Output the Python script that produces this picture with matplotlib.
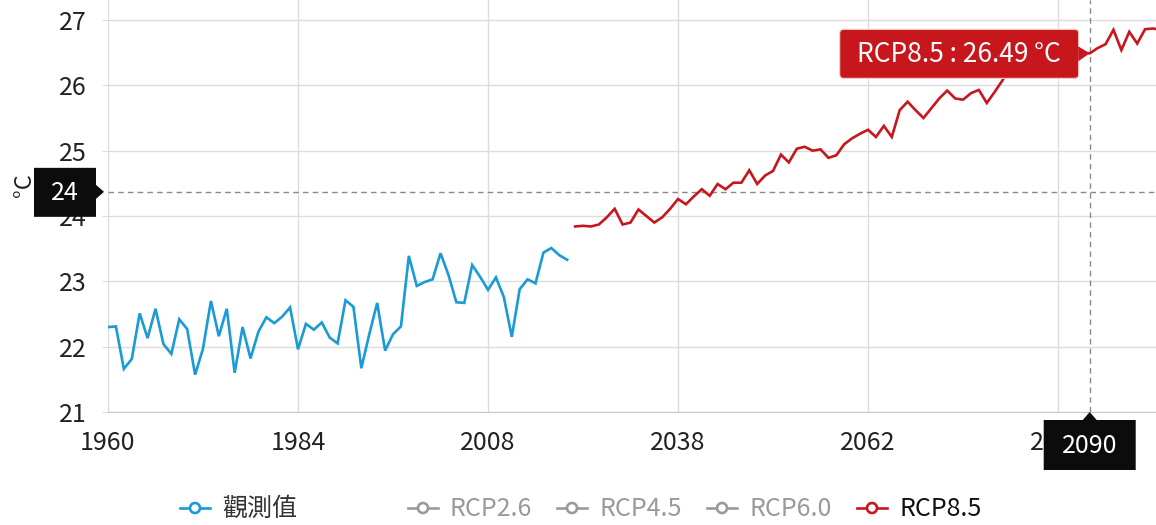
import matplotlib
matplotlib.use("Agg")
import matplotlib.pyplot as plt
from matplotlib.patches import FancyBboxPatch, Polygon, Circle
from matplotlib.lines import Line2D
from matplotlib.transforms import IdentityTransform

plt.rcParams['font.family'] = ['Noto Sans CJK TC', 'DejaVu Sans']

# ---------------- data ----------------
obs_years = list(range(1960, 2019))
obs_values = [22.30, 22.31, 21.66, 21.81, 22.51, 22.13, 22.58, 22.04, 21.89, 22.42,
              22.27, 21.57, 21.97, 22.70, 22.16, 22.58, 21.60, 22.30, 21.82, 22.23,
              22.45, 22.36, 22.46, 22.60, 21.96, 22.35, 22.26, 22.37, 22.14, 22.05,
              22.71, 22.61, 21.67, 22.19, 22.67, 21.94, 22.19, 22.31, 23.39, 22.93,
              22.99, 23.03, 23.43, 23.10, 22.68, 22.67, 23.25, 23.07, 22.87, 23.06,
              22.76, 22.15, 22.88, 23.03, 22.97, 23.44, 23.51, 23.40, 23.33]
proj_years = list(range(2025, 2100))
rcp85_values = [23.84, 23.85, 23.84, 23.87, 23.98, 24.11, 23.87, 23.90, 24.10, 24.00,
                23.90, 23.98, 24.11, 24.26, 24.18, 24.30, 24.41, 24.31, 24.49, 24.41,
                24.51, 24.51, 24.70, 24.49, 24.62, 24.69, 24.94, 24.82, 25.03, 25.06,
                25.00, 25.02, 24.89, 24.93, 25.10, 25.19, 25.26, 25.32, 25.21, 25.38,
                25.21, 25.62, 25.75, 25.62, 25.50, 25.65, 25.80, 25.92, 25.80, 25.78,
                25.88, 25.93, 25.73, 25.90, 26.08, 26.28, 26.22, 26.20, 26.27, 26.30,
                26.23, 26.45, 26.50, 26.63, 26.50, 26.49, 26.57, 26.63, 26.85, 26.54,
                26.82, 26.64, 26.86, 26.87, 26.85]
categories = [str(y) for y in obs_years + proj_years]
y_ticks = [21, 22, 23, 24, 25, 26, 27]
legend_labels = ['觀測值', 'RCP2.6', 'RCP4.5', 'RCP6.0', 'RCP8.5']
hover_year = '2090'
hover_y = 24.37
hover_series = 'RCP8.5'

# ---------------- style ----------------
W, H = 1156, 525
BLUE = '#1a9ad6'
RED = '#c8161d'
GRAY = '#9a9a9a'
GRID = '#dcdcdc'

fig = plt.figure(figsize=(W / 100, H / 100), dpi=100)
fig.patch.set_facecolor('white')
ax = fig.add_axes([108 / W, (H - 412) / H, (W - 108) / W, 412 / H])

obs_x = [categories.index(str(y)) for y in obs_years]
proj_x = [categories.index(str(y)) for y in proj_years]

ax.plot(obs_x, obs_values, color=BLUE, lw=1.9, solid_joinstyle='miter', zorder=3)
ax.plot(proj_x, rcp85_values, color=RED, lw=1.9, solid_joinstyle='miter', zorder=3)

ax.set_xlim(0, (W - 108) / 7.917)
ax.set_ylim(21, 21 + 412 / 65.33)

xt = list(range(0, len(categories), 24))
ax.set_xticks(xt)
ax.set_xticklabels([categories[i] for i in xt])
ax.set_yticks(y_ticks)
ax.grid(True, color=GRID, lw=1.0, zorder=0)
for s in ['top', 'right', 'left']:
    ax.spines[s].set_visible(False)
ax.spines['bottom'].set_color('#c8c8c8')
ax.tick_params(axis='y', length=4.5, color=GRID, pad=11, labelsize=18, labelcolor='#222222')
ax.tick_params(axis='x', length=0, pad=13, labelsize=18, labelcolor='#222222')
ax.set_ylabel('°C', fontsize=17, color='#222222')
ax.yaxis.set_label_coords(-72 / (W - 108), (412 - 185) / 412)

# crosshair
hx = categories.index(hover_year)
ax.axhline(hover_y, color='#8a8a8a', lw=1.0, ls=(0, (4, 3)), zorder=2)
ax.axvline(hx, color='#8a8a8a', lw=1.0, ls=(0, (4, 3)), zorder=2)

fig.canvas.draw()
ID = IdentityTransform()

# hovered point
vy = rcp85_values[proj_x.index(hx)]
px, py = ax.transData.transform((hx, vy))
cx, cy = ax.transData.transform((hx, hover_y))
ax_left = ax.transData.transform((0, 21))[0]
ax_bottom = ax.transData.transform((0, 21))[1]

# red tooltip
bx0, bx1 = px - 250, px - 11
by0, by1 = py - 25, py + 24
fig.add_artist(FancyBboxPatch((bx0, by0), bx1 - bx0, by1 - by0,
                              boxstyle='round,pad=0,rounding_size=4',
                              fc=RED, ec='#f0d0d0', lw=0.8, transform=ID, zorder=10))
fig.add_artist(Polygon([(bx1 - 0.5, py + 7), (px, py), (bx1 - 0.5, py - 8)],
                       closed=True, fc=RED, ec='none', transform=ID, zorder=11))
fig.text((bx0 + bx1) / 2, py - 1, f'{hover_series} : {vy:.2f} °C', color='white',
         fontsize=19, ha='center', va='center', transform=ID, zorder=12)

# y-axis crosshair label
yb0, yb1 = ax_left - 74, ax_left - 12
fig.add_artist(Polygon([(yb0, cy - 25), (yb1, cy - 25), (yb1, cy - 7), (ax_left - 4, cy),
                        (yb1, cy + 7), (yb1, cy + 24), (yb0, cy + 24)],
                       closed=True, fc='#0c0c0c', ec='none', transform=ID, zorder=10))
fig.text((yb0 + yb1) / 2, cy - 1, f'{hover_y:.0f}', color='white', fontsize=18,
         ha='center', va='center', transform=ID, zorder=12)

# x-axis crosshair label
xb_top = ax_bottom - 8
xb_bot = ax_bottom - 58
fig.add_artist(Polygon([(cx - 46, xb_top), (cx - 7, xb_top), (cx, ax_bottom), (cx + 7, xb_top),
                        (cx + 46, xb_top), (cx + 46, xb_bot), (cx - 46, xb_bot)],
                       closed=True, fc='#0c0c0c', ec='none', transform=ID, zorder=10))
fig.text(cx, (xb_top + xb_bot) / 2 - 1, hover_year, color='white', fontsize=18,
         ha='center', va='center', transform=ID, zorder=12)

# legend
leg_colors = [BLUE, GRAY, GRAY, GRAY, RED]
text_colors = ['#333333', GRAY, GRAY, GRAY, '#111111']
leg_cx = [195, 423, 572, 722, 872]
ly = H - 508
for lab, c, tc, lx in zip(legend_labels, leg_colors, text_colors, leg_cx):
    fig.add_artist(Line2D([lx - 15, lx + 15], [ly, ly], color=c, lw=1.9, transform=ID))
    fig.add_artist(Circle((lx, ly), 5, fc='white', ec=c, lw=1.9, transform=ID, zorder=5))
    fig.text(lx + 27, ly - 1, lab, color=tc, fontsize=18, ha='left', va='center',
             transform=ID)

fig.savefig('out.png', dpi=100, facecolor='white')
